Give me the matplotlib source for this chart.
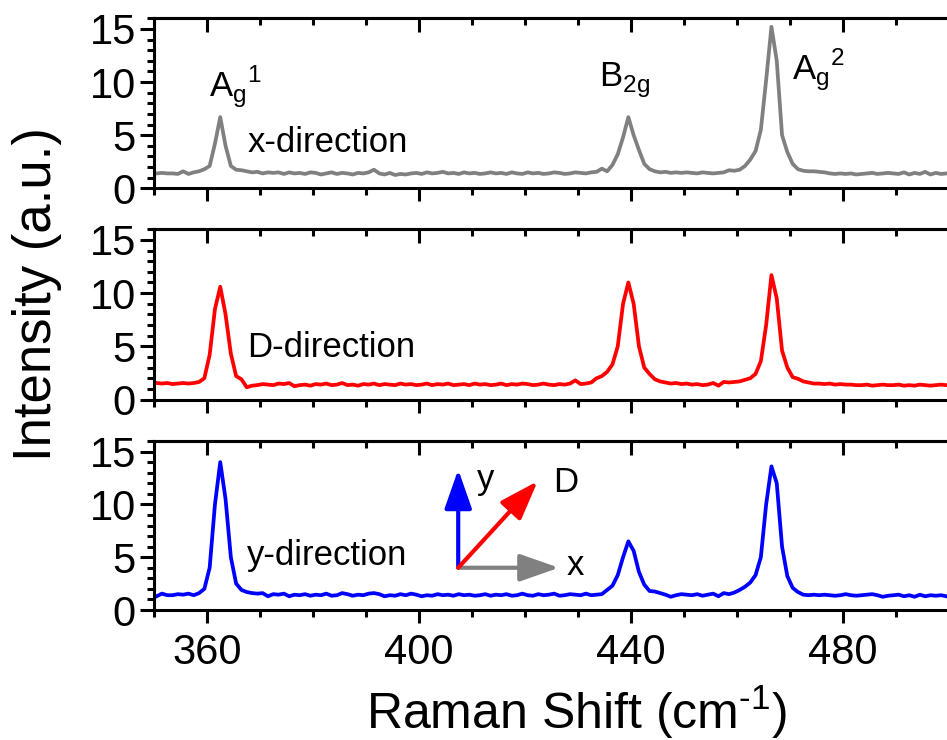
import numpy as np
import matplotlib
matplotlib.use('Agg')
from matplotlib import pyplot as plt
from matplotlib.ticker import MultipleLocator

plt.rcParams['font.family'] = ['Liberation Sans', 'DejaVu Sans']
plt.rcParams['mathtext.fontset'] = 'custom'
plt.rcParams['mathtext.rm'] = 'Liberation Sans'

# Raman shift grid (cm^-1)
shift = np.arange(350.5, 500.0, 1.0)

# x-direction (gray)
int_x = [1.40, 1.45, 1.40, 1.40, 1.35, 1.60, 1.35, 1.50, 1.60, 1.80,
         2.10, 4.20, 6.70, 4.00, 2.10, 1.75, 1.70, 1.60, 1.50, 1.55,
         1.40, 1.50, 1.45, 1.50, 1.35, 1.50, 1.40, 1.45, 1.35, 1.50,
         1.45, 1.30, 1.40, 1.50, 1.35, 1.45, 1.40, 1.30, 1.45, 1.40,
         1.50, 1.75, 1.40, 1.30, 1.45, 1.25, 1.35, 1.30, 1.40, 1.45,
         1.35, 1.50, 1.40, 1.45, 1.55, 1.40, 1.45, 1.35, 1.50, 1.40,
         1.45, 1.35, 1.40, 1.50, 1.40, 1.45, 1.35, 1.50, 1.40, 1.35,
         1.50, 1.40, 1.45, 1.35, 1.40, 1.50, 1.45, 1.35, 1.40, 1.50,
         1.45, 1.40, 1.50, 1.55, 1.85, 1.60, 2.20, 3.20, 4.80, 6.70,
         5.00, 3.60, 2.30, 1.80, 1.60, 1.50, 1.55, 1.45, 1.50, 1.45,
         1.50, 1.45, 1.40, 1.50, 1.45, 1.40, 1.45, 1.50, 1.70, 1.65,
         1.75, 2.10, 2.70, 3.50, 5.50, 10.2, 15.2, 12.0, 5.00, 3.40,
         2.30, 1.80, 1.65, 1.60, 1.60, 1.55, 1.50, 1.40, 1.35, 1.40,
         1.35, 1.40, 1.30, 1.35, 1.40, 1.45, 1.35, 1.40, 1.45, 1.40,
         1.35, 1.50, 1.30, 1.45, 1.35, 1.55, 1.30, 1.45, 1.35, 1.40]

# D-direction (red)
int_d = [1.55, 1.50, 1.55, 1.45, 1.50, 1.55, 1.50, 1.55, 1.65, 2.00,
         4.20, 8.50, 10.6, 8.00, 4.30, 2.20, 1.90, 1.15, 1.30, 1.35,
         1.45, 1.40, 1.35, 1.50, 1.45, 1.55, 1.25, 1.35, 1.40, 1.30,
         1.45, 1.40, 1.50, 1.35, 1.40, 1.55, 1.35, 1.40, 1.30, 1.45,
         1.40, 1.50, 1.35, 1.45, 1.40, 1.35, 1.50, 1.40, 1.45, 1.35,
         1.40, 1.50, 1.35, 1.45, 1.40, 1.50, 1.35, 1.40, 1.45, 1.35,
         1.50, 1.40, 1.45, 1.35, 1.40, 1.50, 1.35, 1.45, 1.40, 1.50,
         1.45, 1.35, 1.40, 1.50, 1.40, 1.35, 1.45, 1.40, 1.50, 1.80,
         1.45, 1.50, 1.60, 2.00, 2.20, 2.60, 3.30, 5.00, 9.00, 11.0,
         9.00, 5.00, 3.00, 2.40, 1.90, 1.70, 1.60, 1.50, 1.55, 1.45,
         1.50, 1.40, 1.45, 1.35, 1.40, 1.55, 1.30, 1.65, 1.60, 1.65,
         1.70, 1.85, 2.00, 2.40, 3.60, 7.00, 11.7, 9.50, 4.60, 3.00,
         2.10, 1.95, 1.70, 1.60, 1.50, 1.50, 1.45, 1.50, 1.40, 1.45,
         1.40, 1.40, 1.35, 1.35, 1.40, 1.30, 1.35, 1.40, 1.35, 1.35,
         1.40, 1.30, 1.35, 1.30, 1.40, 1.35, 1.30, 1.35, 1.40, 1.35]

# y-direction (blue)
int_y = [1.30, 1.55, 1.40, 1.40, 1.50, 1.45, 1.55, 1.40, 1.60, 2.00,
         4.00, 10.0, 14.0, 10.5, 5.00, 2.50, 1.90, 1.70, 1.60, 1.55,
         1.60, 1.30, 1.50, 1.45, 1.55, 1.30, 1.45, 1.40, 1.50, 1.35,
         1.45, 1.40, 1.55, 1.35, 1.40, 1.60, 1.50, 1.35, 1.45, 1.40,
         1.55, 1.60, 1.50, 1.30, 1.40, 1.35, 1.50, 1.40, 1.55, 1.45,
         1.30, 1.40, 1.35, 1.50, 1.40, 1.45, 1.35, 1.50, 1.40, 1.45,
         1.35, 1.40, 1.50, 1.35, 1.45, 1.40, 1.50, 1.35, 1.40, 1.55,
         1.40, 1.35, 1.50, 1.40, 1.45, 1.55, 1.35, 1.40, 1.50, 1.45,
         1.40, 1.55, 1.40, 1.45, 1.50, 1.90, 2.30, 3.30, 5.00, 6.50,
         5.60, 3.60, 2.40, 1.80, 1.75, 1.60, 1.45, 1.25, 1.40, 1.50,
         1.45, 1.40, 1.50, 1.35, 1.45, 1.55, 1.30, 1.60, 1.50, 1.65,
         1.90, 2.20, 2.60, 3.30, 5.00, 10.0, 13.6, 12.0, 6.00, 3.20,
         2.10, 1.70, 1.45, 1.40, 1.45, 1.40, 1.45, 1.40, 1.35, 1.40,
         1.50, 1.40, 1.35, 1.40, 1.45, 1.50, 1.40, 1.25, 1.35, 1.40,
         1.45, 1.30, 1.40, 1.25, 1.45, 1.30, 1.40, 1.35, 1.40, 1.30]

series = [(int_x, '#808080', 'x-direction', 3.4),
          (int_d, '#ff0000', 'D-direction', 4.0),
          (int_y, '#0000ff', 'y-direction', 4.3)]

W, H = 947, 740
fig = plt.figure(figsize=(W / 100, H / 100), dpi=100)

panels = [(18.3, 188.3), (229.3, 399.5), (441.0, 610.0)]
left_px, right_px = 154.0, 949.0
axes = []
for (top, bot), (vals, col, label, ty) in zip(panels, series):
    ax = fig.add_axes([left_px / W, 1 - bot / H, (right_px - left_px) / W, (bot - top) / H])
    ax.plot(shift, vals, color=col, lw=2.7, solid_joinstyle='round')
    ax.set_xlim(350, 500)
    ax.set_ylim(0, 16)
    ax.spines['right'].set_visible(False)
    for s in ['left', 'top', 'bottom']:
        ax.spines[s].set_linewidth(2.2)
    ax.xaxis.set_major_locator(MultipleLocator(40))
    ax.xaxis.set_minor_locator(MultipleLocator(10))
    ax.yaxis.set_major_locator(MultipleLocator(5))
    ax.yaxis.set_minor_locator(MultipleLocator(1))
    ax.tick_params(axis='x', which='both', top=False, bottom=True, direction='out',
                   width=2.2, labelbottom=False)
    ax.tick_params(axis='x', which='major', length=9.5)
    ax.tick_params(axis='x', which='minor', length=5)
    ax.tick_params(axis='y', which='both', left=True, right=False, direction='out', width=2.2)
    ax.tick_params(axis='y', which='major', length=10, labelsize=30, pad=3)
    ax.tick_params(axis='y', which='minor', length=5)
    # inward ticks on the top spine
    sec = ax.secondary_xaxis('top')
    sec.xaxis.set_major_locator(MultipleLocator(40))
    sec.xaxis.set_minor_locator(MultipleLocator(10))
    sec.tick_params(which='both', direction='in', width=2.2, labeltop=False)
    sec.tick_params(which='major', length=10)
    sec.tick_params(which='minor', length=5)
    sec.spines['top'].set_linewidth(2.2)
    ax.text(367.6, ty, label, fontsize=25, ha='left', va='baseline')
    axes.append(ax)

axes[-1].tick_params(axis='x', labelbottom=True, labelsize=30, pad=7)

# peak labels
ax0 = axes[0]
ax0.text(360.3, 8.6, r'A$_\mathregular{g}$$^\mathregular{1}$', fontsize=25, ha='left', va='baseline')
ax0.text(434.0, 9.5, r'B$_\mathregular{2g}$', fontsize=25, ha='left', va='baseline')
ax0.text(470.3, 10.2, r'A$_\mathregular{g}$$^\mathregular{2}$', fontsize=25, ha='left', va='baseline')

# direction arrows
ax2 = axes[2]
origin = (407.4, 4.0)
for tip, col in [((407.4, 13.3), '#0000ff'), ((426.4, 4.0), '#808080'), ((422.4, 12.2), '#ff0000')]:
    ax2.annotate('', xy=tip, xytext=origin,
                 arrowprops=dict(arrowstyle='-|>,head_length=1.0,head_width=0.35',
                                 color=col, lw=3, shrinkA=0, shrinkB=0,
                                 mutation_scale=24))
ax2.text(411.0, 12.4, 'y', fontsize=25, ha='left', va='center')
ax2.text(425.3, 12.1, 'D', fontsize=25, ha='left', va='center')
ax2.text(427.8, 4.2, 'x', fontsize=25, ha='left', va='center')

fig.text(37 / W, 1 - 294 / H, 'Intensity (a.u.)', rotation=90, fontsize=38,
         ha='center', va='center')
fig.text(576 / W, 1 - 712 / H, r'Raman Shift (cm$^\mathregular{\text{-}1}$)', fontsize=36,
         ha='center', va='center')

fig.savefig('out.png', dpi=100)
